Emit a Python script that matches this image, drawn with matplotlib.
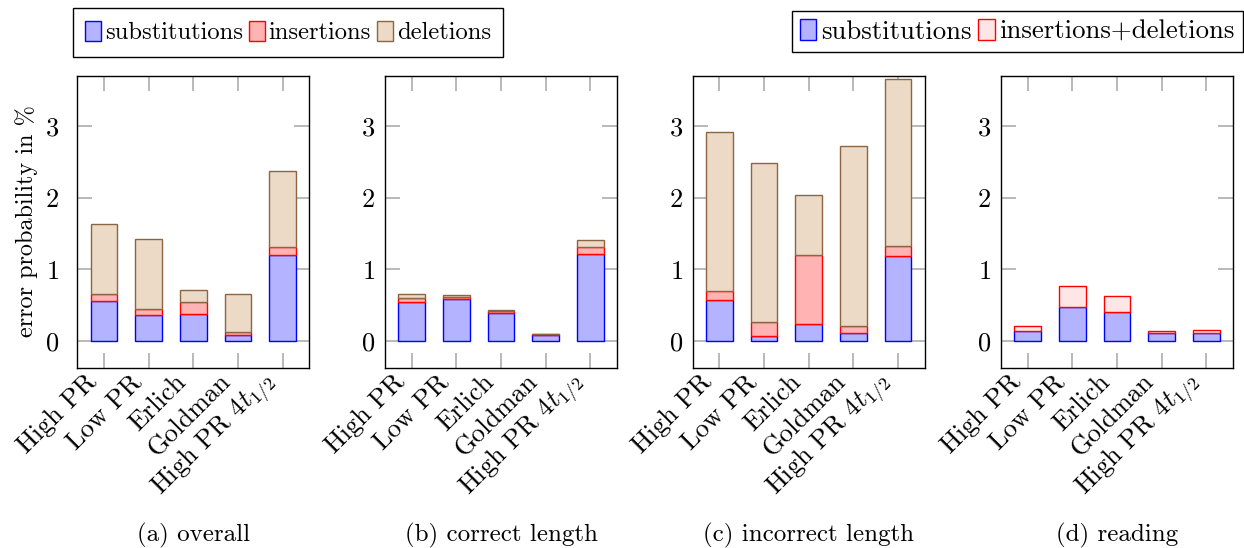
import matplotlib
matplotlib.use("Agg")
import matplotlib.pyplot as plt
import matplotlib.transforms as mtransforms
from matplotlib.patches import Patch

plt.rcParams['font.family'] = ['cmr10', 'DejaVu Serif']
plt.rcParams['mathtext.fontset'] = 'cm'
plt.rcParams['axes.unicode_minus'] = False
plt.rcParams['axes.formatter.use_mathtext'] = True

categories = ["High PR", "Low PR", "Erlich", "Goldman", r"High PR $4t_{1/2}$"]
panel_titles = ["(a) overall", "(b) correct length", "(c) incorrect length", "(d) reading"]

# stacked segment heights
a_sub = [0.56, 0.36, 0.37, 0.09, 1.20]
a_ins = [0.09, 0.09, 0.18, 0.03, 0.11]
a_del = [0.98, 0.98, 0.16, 0.54, 1.07]

b_sub = [0.55, 0.59, 0.39, 0.09, 1.22]
b_ins = [0.055, 0.03, 0.03, 0.005, 0.09]
b_del = [0.045, 0.02, 0.015, 0.005, 0.095]

c_sub = [0.57, 0.07, 0.24, 0.11, 1.18]
c_ins = [0.135, 0.19, 0.96, 0.10, 0.15]
c_del = [2.21, 2.22, 0.845, 2.52, 2.33]

d_sub = [0.14, 0.47, 0.41, 0.105, 0.115]
d_insdel = [0.07, 0.30, 0.225, 0.035, 0.04]

blue_fill = (0.7, 0.7, 1.0)
red_fill = (1.0, 0.7, 0.7)
brown_fill = (0.925, 0.85, 0.775)
brown_edge = (0.55, 0.40, 0.26)
light_red_fill = (1.0, 0.9, 0.9)

W, H = 1244, 548
fig = plt.figure(figsize=(W / 100, H / 100), dpi=100)

lefts = [77.3, 385.0, 692.7, 1001.0]
ax_w = 232.0
top_px, bot_px = 75.7, 367.7

x = list(range(len(categories)))
bw = 0.6
fs_tick = 19
fs_cap = 18
ypads = [13, 7, 7, 7]

axes = []
for i, lp in enumerate(lefts):
    ax = fig.add_axes([lp / W, 1 - bot_px / H, ax_w / W, (bot_px - top_px) / H])
    axes.append(ax)

def stacked(ax, layers):
    bottom = [0.0] * len(categories)
    for vals, fc, ec in layers:
        ax.bar(x, vals, width=bw, bottom=bottom, facecolor=fc, edgecolor=ec, linewidth=1.0, zorder=2)
        bottom = [b + v for b, v in zip(bottom, vals)]

stacked(axes[0], [(a_sub, blue_fill, 'blue'), (a_ins, red_fill, 'red'), (a_del, brown_fill, brown_edge)])
stacked(axes[1], [(b_sub, blue_fill, 'blue'), (b_ins, red_fill, 'red'), (b_del, brown_fill, brown_edge)])
stacked(axes[2], [(c_sub, blue_fill, 'blue'), (c_ins, red_fill, 'red'), (c_del, brown_fill, brown_edge)])
stacked(axes[3], [(d_sub, blue_fill, 'blue'), (d_insdel, light_red_fill, 'red')])

shift = mtransforms.ScaledTranslation(-11 / 100, 2 / 100, fig.dpi_scale_trans)

for i, ax in enumerate(axes):
    ax.set_xlim(-0.6, 4.6)
    ax.set_ylim(-0.373, 3.705)
    ax.set_yticks([0, 1, 2, 3])
    ax.set_xticks(x)
    ax.set_xticklabels(categories, rotation=45, ha='right', va='center', rotation_mode='anchor',
                       fontsize=fs_tick)
    ax.tick_params(axis='both', direction='in', length=11, width=1.2, color=(0.68, 0.68, 0.68),
                   top=True, right=True, labelsize=fs_tick)
    ax.tick_params(axis='y', pad=ypads[i])
    ax.tick_params(axis='x', pad=9)
    for lab in ax.get_xticklabels():
        lab.set_transform(lab.get_transform() + shift)
    for s in ax.spines.values():
        s.set_linewidth(1.0)
        s.set_color('black')
    ax.text(0.5, -0.573, panel_titles[i], transform=ax.transAxes, ha='center', va='center',
            fontsize=fs_cap)

fig.text(27 / W, 1 - 221 / H, "error probability in %", rotation=90,
         ha='center', va='center', fontsize=17.5)

h1 = [Patch(facecolor=blue_fill, edgecolor='blue', label='substitutions'),
      Patch(facecolor=red_fill, edgecolor='red', label='insertions'),
      Patch(facecolor=brown_fill, edgecolor=brown_edge, label='deletions')]
leg1 = fig.legend(handles=h1, loc='upper left', bbox_to_anchor=(72.7 / W, 1 - 8.3 / H), ncol=3,
                  fontsize=17.7, frameon=True, fancybox=False, edgecolor='black', framealpha=1,
                  handlelength=0.65, handleheight=0.9, handletextpad=0.16, columnspacing=0.24,
                  borderpad=0.5, borderaxespad=0)
leg1.get_frame().set_linewidth(1.0)

h2 = [Patch(facecolor=blue_fill, edgecolor='blue', label='substitutions'),
      Patch(facecolor=light_red_fill, edgecolor='red', label='insertions+deletions')]
leg2 = fig.legend(handles=h2, loc='upper right', bbox_to_anchor=(1243 / W, 1 - 11 / H), ncol=2,
                  fontsize=19.3, frameon=True, fancybox=False, edgecolor='black', framealpha=1,
                  handlelength=0.62, handleheight=0.85, handletextpad=0.18, columnspacing=0.24,
                  borderpad=0.3, borderaxespad=0)
leg2.get_frame().set_linewidth(1.0)

fig.savefig("out.png", dpi=100)
